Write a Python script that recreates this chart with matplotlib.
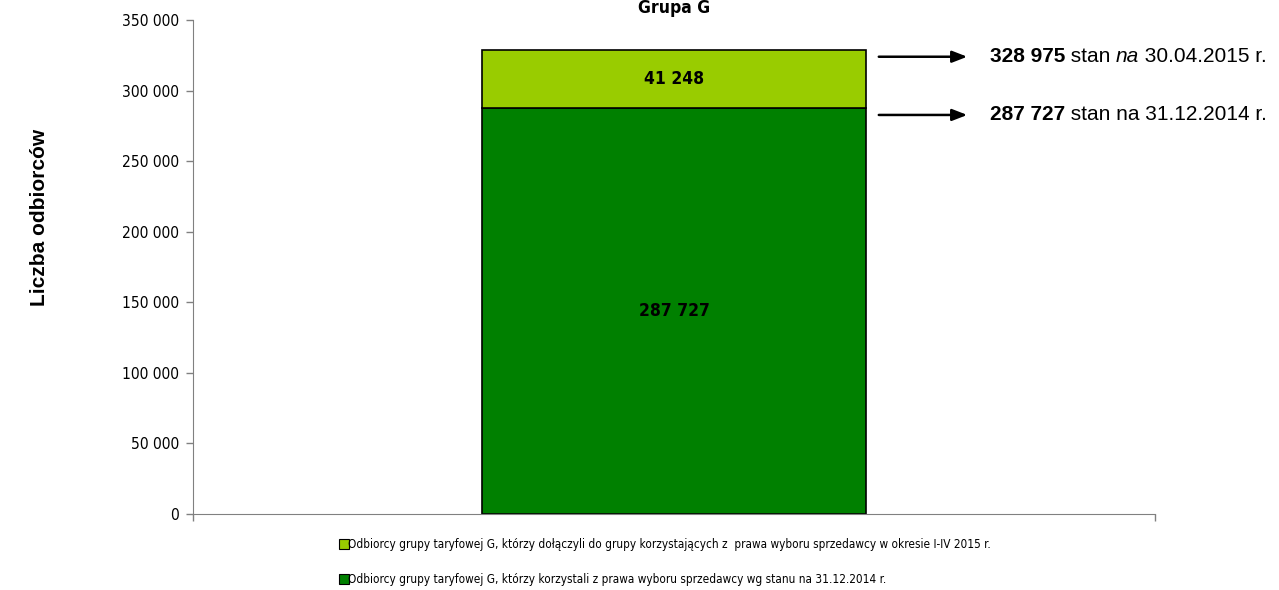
import os
import matplotlib
matplotlib.use("Agg")
import matplotlib.pyplot as plt
from matplotlib import font_manager
from matplotlib.font_manager import FontProperties
from matplotlib.lines import Line2D

# ---- data ----
title = "Grupa G"
ylabel = "Liczba odbiorców"
base_value = 287727
added_value = 41248
total_value = 328975
series_labels = [
    "Odbiorcy grupy taryfowej G, którzy dołączyli do grupy korzystających z  prawa wyboru sprzedawcy w okresie I-IV 2015 r.",
    "Odbiorcy grupy taryfowej G, którzy korzystali z prawa wyboru sprzedawcy wg stanu na 31.12.2014 r.",
]
yticks = [0, 50000, 100000, 150000, 200000, 250000, 300000, 350000]
ytick_labels = ["0", "50 000", "100 000", "150 000", "200 000", "250 000", "300 000", "350 000"]
ann_top = ("328 975", "stan", "na", "30.04.2015 r.")
ann_bot = ("287 727", "stan na 31.12.2014 r.")

DARK = "#008000"
LIGHT = "#99CC00"

# ---- fonts: look for a narrow / condensed face ----
files = font_manager.findSystemFonts()
def find(cands):
    for c in cands:
        for f in files:
            if os.path.basename(f).lower() == c.lower():
                return f
    return None

nreg = find(["LiberationSansNarrow-Regular.ttf", "DejaVuSansCondensed.ttf",
             "RobotoCondensed-Regular.ttf", "OpenSans_Condensed-Regular.ttf"])
nbold = find(["LiberationSansNarrow-Bold.ttf", "DejaVuSansCondensed-Bold.ttf",
              "RobotoCondensed-Bold.ttf", "OpenSans_Condensed-Bold.ttf"])
HAVE_NARROW = nreg is not None and nbold is not None

def narrow(size, bold=False):
    if HAVE_NARROW:
        return FontProperties(fname=nbold if bold else nreg, size=size)
    return FontProperties(family="Liberation Sans", weight="bold" if bold else "normal",
                          size=size * 0.92)

ARIAL = "Liberation Sans"

fig = plt.figure(figsize=(12.79, 5.90), dpi=100)
ax = fig.add_axes([193/1279, 1-514/590, (1155-193)/1279, (514-20)/590])

ax.bar([0], [base_value], width=0.4, color=DARK, edgecolor="black", linewidth=1.2)
ax.bar([0], [added_value], bottom=[base_value], width=0.4, color=LIGHT, edgecolor="black", linewidth=1.2)

ax.set_xlim(-0.5, 0.5)
ax.set_ylim(0, 350000)
ax.set_yticks(yticks)
ax.set_yticklabels(ytick_labels)
for lab in ax.get_yticklabels():
    lab.set_fontproperties(narrow(11.2))
ax.set_xticks([-0.5, 0.5])
ax.set_xticklabels(["", ""])
ax.tick_params(axis="both", direction="out", length=5, color="#808080", width=1, pad=5)
for s in ["top", "right"]:
    ax.spines[s].set_visible(False)
for s in ["left", "bottom"]:
    ax.spines[s].set_color("#808080")

ax.text(0, base_value / 2, "287 727", ha="center", va="center",
        fontproperties=narrow(12.5, bold=True))
ax.text(0, base_value + added_value / 2, "41 248", ha="center", va="center",
        fontproperties=narrow(12.5, bold=True))

fig.text(674/1279, 1-8/590, title, ha="center", va="center",
         fontproperties=narrow(12.5, bold=True))
fig.text(40/1279, 1-217/590, ylabel, ha="center", va="center", rotation=90, fontsize=15,
         fontweight="bold", fontfamily=ARIAL)

# arrows + annotations
for val in (total_value, base_value):
    ax.annotate("", xy=(0.3077, val - 5000), xytext=(0.21, val - 5000),
                arrowprops=dict(arrowstyle="-|>,head_length=0.9,head_width=0.35", color="black", lw=1.8),
                annotation_clip=False)

fs = 15
t = ax.text(0.328, total_value - 5000, ann_top[0], ha="left", va="center", fontsize=fs,
            fontweight="bold", fontfamily=ARIAL, clip_on=False)
t = ax.annotate(" " + ann_top[1] + " ", xy=(1, 0), xycoords=t, ha="left", va="bottom",
                fontsize=fs, fontfamily=ARIAL)
t = ax.annotate(ann_top[2], xy=(1, 0), xycoords=t, ha="left", va="bottom",
                fontsize=fs, fontstyle="italic", fontfamily=ARIAL)
t = ax.annotate(" " + ann_top[3], xy=(1, 0), xycoords=t, ha="left", va="bottom",
                fontsize=fs, fontfamily=ARIAL)

t = ax.text(0.328, base_value - 5000, ann_bot[0], ha="left", va="center", fontsize=fs,
            fontweight="bold", fontfamily=ARIAL, clip_on=False)
t = ax.annotate(" " + ann_bot[1], xy=(1, 0), xycoords=t, ha="left", va="bottom",
                fontsize=fs, fontfamily=ARIAL)

handles = [
    Line2D([], [], linestyle="none", marker="s", markersize=6.5, markerfacecolor=LIGHT,
           markeredgecolor="black", markeredgewidth=0.8),
    Line2D([], [], linestyle="none", marker="s", markersize=6.5, markerfacecolor=DARK,
           markeredgecolor="black", markeredgewidth=0.8),
]
fig.legend(handles, series_labels, loc="center left", bbox_to_anchor=(340/1279, 1-562/590),
           frameon=False, prop=narrow(8.5), handlelength=0.6,
           handletextpad=0.1, labelspacing=1.85, borderaxespad=0, borderpad=0)

fig.savefig("out.png", dpi=100)
